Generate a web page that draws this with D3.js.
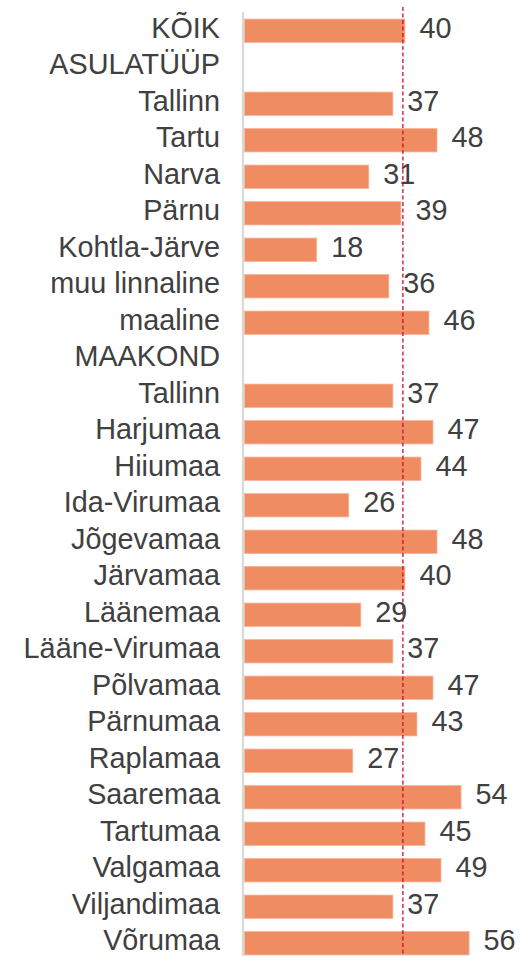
<!DOCTYPE html>
<html><head><meta charset="utf-8">
<script src="https://cdn.jsdelivr.net/npm/d3@7"></script>
<style>
html,body{margin:0;padding:0;background:#fff;}
svg{display:block;}
text{font-family:"Liberation Sans",Arial,sans-serif;fill:#404040;}
</style></head>
<body>
<svg id="chart" width="522" height="956"></svg>
<script>
const categories = ["KÕIK","ASULATÜÜP","Tallinn","Tartu","Narva","Pärnu","Kohtla-Järve","muu linnaline","maaline","MAAKOND","Tallinn","Harjumaa","Hiiumaa","Ida-Virumaa","Jõgevamaa","Järvamaa","Läänemaa","Lääne-Virumaa","Põlvamaa","Pärnumaa","Raplamaa","Saaremaa","Tartumaa","Valgamaa","Viljandimaa","Võrumaa"];
const values = [40,null,37,48,31,39,18,36,46,null,37,47,44,26,48,40,29,37,47,43,27,54,45,49,37,56];
const average = [39.5];

const svg = d3.select("#chart");
const idx = categories.map((d,i)=>i);
const y = d3.scaleBand().domain(idx).range([12.5, 12.5+26*36.5]).paddingInner(0.36).paddingOuter(0.18);
const x = d3.scaleLinear().domain([0, 70]).range([244.5, 244.5+70*4.01]);

// bars
svg.append("g").selectAll("rect").data(idx.filter(i=>values[i]!=null)).join("rect")
  .attr("x", x(0)).attr("y", i=>y(i))
  .attr("width", i=>x(values[i])-x(0)).attr("height", y.bandwidth())
  .attr("fill","#F08C62").attr("stroke","#F5B399").attr("stroke-width",0.8);

// axis line
svg.append("line").attr("x1",243).attr("x2",243).attr("y1",12).attr("y2",956)
  .attr("stroke","#D9D9D9").attr("stroke-width",2.2);

// average dashed line
svg.append("line").datum(average[0])
  .attr("x1",d=>x(d)).attr("x2",d=>x(d)).attr("y1",7).attr("y2",956)
  .attr("stroke","#C8102E").attr("stroke-width",1.3).attr("stroke-dasharray","4,2.5");

// category labels
svg.append("g").selectAll("text").data(idx).join("text")
  .attr("x",220).attr("y",i=>y(i)+y.bandwidth()/2+7.2)
  .attr("text-anchor","end").attr("font-size","28.8px")
  .text(i=>categories[i]);

// value labels
svg.append("g").selectAll("text").data(idx.filter(i=>values[i]!=null)).join("text")
  .attr("x",i=>x(values[i])+14.5).attr("y",i=>y(i)+y.bandwidth()/2+7.2)
  .attr("font-size","28.8px")
  .text(i=>values[i]);
</script>
</body></html>
